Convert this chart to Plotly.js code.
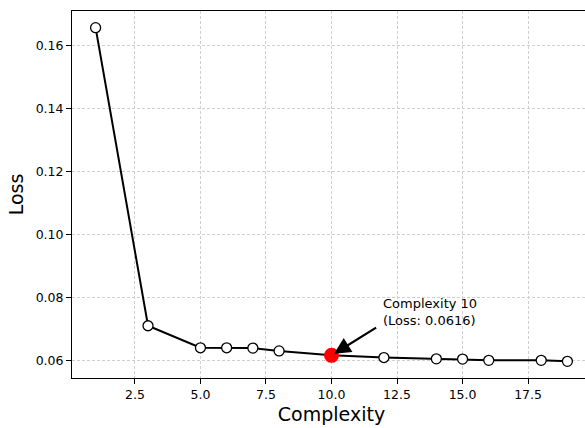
<!DOCTYPE html>
<html>
<head>
<meta charset="utf-8">
<script src="https://cdn.plot.ly/plotly-3.0.1.min.js"></script>
<style>
html,body{margin:0;padding:0;overflow:hidden;background:#fff;}
#chart{width:592px;height:428px;}
</style>
</head>
<body>
<div id="chart"></div>
<script>
const complexity = [1, 3, 5, 6, 7, 8, 10, 12, 14, 15, 16, 18, 19];
const loss = [0.1657, 0.0710, 0.0640, 0.0640, 0.0639, 0.0630, 0.0616, 0.0609, 0.0605, 0.0604, 0.0600, 0.0600, 0.0597];
const bestComplexity = [10];
const bestLoss = [0.0616];
const annotationText = 'Complexity 10<br>(Loss: 0.0616)';
const xTicks = [2.5, 5.0, 7.5, 10.0, 12.5, 15.0, 17.5];
const yTicks = [0.06, 0.08, 0.10, 0.12, 0.14, 0.16];

const font = 'DejaVu Sans, sans-serif';

const traces = [
  {
    x: complexity, y: loss, type: 'scatter', mode: 'lines+markers',
    line: {color: '#000', width: 2},
    marker: {symbol: 'circle', size: 10, color: '#fff', line: {color: '#000', width: 1.3}},
    hoverinfo: 'skip', showlegend: false
  },
  {
    x: bestComplexity, y: bestLoss, type: 'scatter', mode: 'markers',
    marker: {symbol: 'circle', size: 15, color: '#ff0000', line: {width: 0}},
    hoverinfo: 'skip', showlegend: false
  }
];

const layout = {
  width: 592, height: 428,
  margin: {l: 72, r: 1, t: 11, b: 49.5},
  paper_bgcolor: '#fff', plot_bgcolor: '#fff',
  font: {family: font, size: 12.5, color: '#000'},
  showlegend: false,
  xaxis: {
    range: [0.1, 19.9],
    tickvals: xTicks, ticktext: xTicks.map(v => v.toFixed(1)),
    ticks: 'outside', ticklen: 5, tickwidth: 1, tickcolor: '#000',
    showline: true, linecolor: '#000', linewidth: 1, mirror: true,
    showgrid: true, gridcolor: '#cfcfcf', griddash: '3px,2px', gridwidth: 1,
    zeroline: false,
    tickfont: {family: font, size: 12.5, color: '#000'},
    title: {text: 'Complexity', font: {family: font, size: 19, color: '#000'}, standoff: 6},
    automargin: false
  },
  yaxis: {
    range: [0.0544, 0.171],
    tickvals: yTicks, ticktext: yTicks.map(v => v.toFixed(2)),
    ticks: 'outside', ticklen: 5, tickwidth: 1, tickcolor: '#000',
    showline: true, linecolor: '#000', linewidth: 1, mirror: true,
    showgrid: true, gridcolor: '#cfcfcf', griddash: '3px,2px', gridwidth: 1,
    zeroline: false,
    tickfont: {family: font, size: 12.5, color: '#000'},
    title: {text: 'Loss', font: {family: font, size: 19, color: '#000'}, standoff: 7},
    automargin: false
  },
  annotations: [
    {
      x: bestComplexity[0], y: bestLoss[0], xref: 'x', yref: 'y',
      ax: 11.76, ay: 0.0707, axref: 'x', ayref: 'y',
      text: '', showarrow: true, arrowhead: 2, arrowsize: 1.5, arrowwidth: 2.2,
      arrowcolor: '#000', standoff: 3
    },
    {
      x: 11.89, y: 0.0812, xref: 'x', yref: 'y',
      text: annotationText, showarrow: false, xanchor: 'left', yanchor: 'top', align: 'left',
      font: {family: font, size: 13, color: '#000'}
    }
  ]
};

Plotly.newPlot('chart', traces, layout, {staticPlot: true, displayModeBar: false});
</script>
</body>
</html>
